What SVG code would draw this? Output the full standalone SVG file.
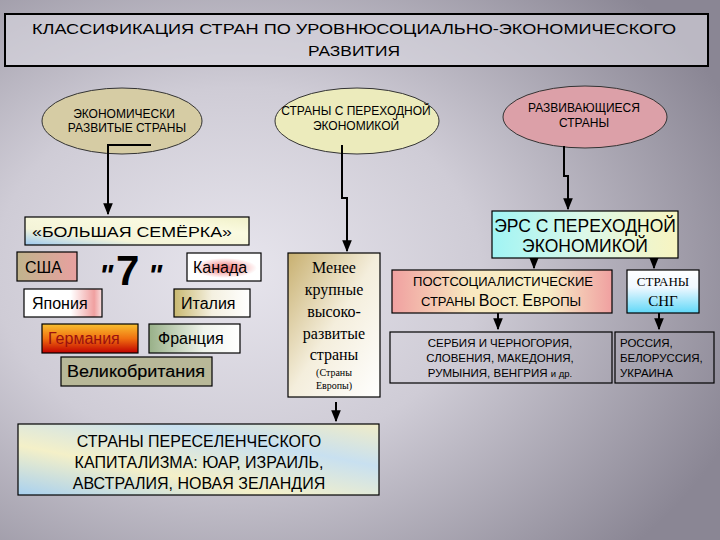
<svg xmlns="http://www.w3.org/2000/svg" width="720" height="540" viewBox="0 0 720 540">
<defs>
<radialGradient id="bg" cx="0.33" cy="0.5" r="0.75">
<stop offset="0" stop-color="#e7e5ed"/>
<stop offset="0.45" stop-color="#cfccd6"/>
<stop offset="1" stop-color="#8a8694"/>
</radialGradient>
<linearGradient id="gSem" x1="0" y1="1" x2="1" y2="0">
<stop offset="0" stop-color="#9cc8f0"/>
<stop offset="0.3" stop-color="#f4f4d8"/>
<stop offset="0.7" stop-color="#fafae0"/>
<stop offset="1" stop-color="#f0f0c8"/>
</linearGradient>
<linearGradient id="gUSA" x1="0" y1="0" x2="1" y2="0">
<stop offset="0" stop-color="#c0b48c"/>
<stop offset="1" stop-color="#e8a0a0"/>
</linearGradient>
<radialGradient id="gCan" cx="0.5" cy="0.5" r="0.5">
<stop offset="0" stop-color="#f07070"/>
<stop offset="1" stop-color="#ffffff"/>
</radialGradient>
<linearGradient id="gJap" x1="0" y1="0" x2="1" y2="0">
<stop offset="0" stop-color="#ffffff"/>
<stop offset="0.6" stop-color="#ffffff"/>
<stop offset="0.9" stop-color="#f0a0a0"/>
<stop offset="1" stop-color="#f8e0e0"/>
</linearGradient>
<linearGradient id="gIta" x1="0" y1="0" x2="1" y2="0">
<stop offset="0" stop-color="#c8b870"/>
<stop offset="0.5" stop-color="#f4f0e0"/>
<stop offset="1" stop-color="#ffffff"/>
</linearGradient>
<linearGradient id="gGer" x1="0" y1="0" x2="0" y2="1">
<stop offset="0" stop-color="#f8c030"/>
<stop offset="0.5" stop-color="#f07010"/>
<stop offset="1" stop-color="#c00000"/>
</linearGradient>
<linearGradient id="gFra" x1="0" y1="0" x2="1" y2="0">
<stop offset="0" stop-color="#98b088"/>
<stop offset="0.6" stop-color="#f0f4ec"/>
<stop offset="1" stop-color="#ffffff"/>
</linearGradient>
<linearGradient id="gMen" x1="0" y1="0" x2="1" y2="1">
<stop offset="0" stop-color="#c8b070"/>
<stop offset="0.5" stop-color="#f4eedc"/>
<stop offset="1" stop-color="#ffffff"/>
</linearGradient>
<linearGradient id="gErs" x1="0" y1="0" x2="1" y2="0">
<stop offset="0" stop-color="#a0f4f4"/>
<stop offset="0.5" stop-color="#dcf8e8"/>
<stop offset="1" stop-color="#f8f4c0"/>
</linearGradient>
<linearGradient id="gPost" x1="0" y1="0" x2="1" y2="0">
<stop offset="0" stop-color="#f0a0a0"/>
<stop offset="0.35" stop-color="#f8e8c0"/>
<stop offset="0.7" stop-color="#f8f0c8"/>
<stop offset="1" stop-color="#f0a0a0"/>
</linearGradient>
<linearGradient id="gSng" x1="0" y1="0" x2="0" y2="1">
<stop offset="0" stop-color="#ffffff"/>
<stop offset="0.4" stop-color="#f0f8ff"/>
<stop offset="1" stop-color="#60d8f8"/>
</linearGradient>
<linearGradient id="gPer" x1="0" y1="1" x2="1" y2="0">
<stop offset="0" stop-color="#a8d0f0"/>
<stop offset="0.35" stop-color="#f4f0c8"/>
<stop offset="0.7" stop-color="#c8e0f0"/>
<stop offset="1" stop-color="#f0ecc8"/>
</linearGradient>
<marker id="arr" viewBox="0 0 10 10" refX="9" refY="5" markerWidth="6" markerHeight="6" orient="auto-start-reverse">
<path d="M0,1 L10,5 L0,9 z" fill="#000"/>
</marker>
</defs>
<style>
.t{font-family:"Liberation Sans",Arial,sans-serif;fill:#000}
.s{font-family:"Liberation Serif","Times New Roman",serif;fill:#000}
.c{text-anchor:middle}
.box{stroke:#000;stroke-width:1.2}
.ell{stroke:#333;stroke-width:1}
.con{fill:none;stroke:#000;stroke-width:2}
</style>
<rect width="720" height="540" fill="url(#bg)"/>

<g id="title">
<rect x="5" y="14" width="703" height="52" fill="#dcdae2" fill-opacity="0.6" stroke="#000" stroke-width="2"/>
<text class="t" x="32" y="34" font-size="15" textLength="644" lengthAdjust="spacingAndGlyphs">КЛАССИФИКАЦИЯ СТРАН ПО УРОВНЮСОЦИАЛЬНО-ЭКОНОМИЧЕСКОГО</text>
<text class="t" x="308" y="56" font-size="15" textLength="92" lengthAdjust="spacingAndGlyphs">РАЗВИТИЯ</text>
</g>

<g id="developed">
<ellipse class="ell" cx="122" cy="121" rx="80" ry="33" fill="#d6cca4"/>
<text class="t c" x="124" y="118" font-size="12">ЭКОНОМИЧЕСКИ</text>
<text class="t c" x="127" y="132" font-size="12">РАЗВИТЫЕ СТРАНЫ</text>
</g>

<g id="transition">
<ellipse class="ell" cx="357" cy="121" rx="82" ry="33" fill="#ecebbc"/>
<text class="t c" x="356" y="115" font-size="12">СТРАНЫ С ПЕРЕХОДНОЙ</text>
<text class="t c" x="356" y="130" font-size="12">ЭКОНОМИКОЙ</text>
</g>

<g id="developing">
<ellipse class="ell" cx="585" cy="117" rx="82" ry="31" fill="#dca0a8"/>
<text class="t c" x="584" y="112" font-size="12">РАЗВИВАЮЩИЕСЯ</text>
<text class="t c" x="584" y="127" font-size="12">СТРАНЫ</text>
</g>

<g id="connectors">
<path class="con" d="M151,145 H108 V214" marker-end="url(#arr)"/>
<path class="con" d="M342,145 V198 H347 V251" marker-end="url(#arr)"/>
<path class="con" d="M564,146 V176 H568 V209" marker-end="url(#arr)"/>
<path class="con" d="M534,258 V268" stroke-width="1.5" marker-end="url(#arr)"/>
<path class="con" d="M654,258 V268" stroke-width="1.5" marker-end="url(#arr)"/>
<path class="con" d="M498,313 V329" stroke-width="1.5" marker-end="url(#arr)"/>
<path class="con" d="M659,313 V329" stroke-width="1.5" marker-end="url(#arr)"/>
<path class="con" d="M336,402 V421" stroke-width="1.5" marker-end="url(#arr)"/>
</g>

<g id="big7">
<rect class="box" x="25" y="217" width="224" height="28" fill="url(#gSem)"/>
<text class="t" x="32" y="237" font-size="15" textLength="200" lengthAdjust="spacingAndGlyphs">«БОЛЬШАЯ СЕМЁРКА»</text>
</g>

<g id="seven">
<text class="t" x="99" y="285" font-size="30" font-weight="bold" font-style="italic">"</text>
<text class="t" x="116" y="285" font-size="42" font-weight="bold">7</text>
<text class="t" x="148" y="285" font-size="30" font-weight="bold" font-style="italic">"</text>
</g>

<g id="usa">
<rect class="box" x="17" y="252" width="60" height="29" fill="url(#gUSA)"/>
<text class="t" x="25" y="273" font-size="16">США</text>
</g>
<g id="canada">
<rect class="box" x="187" y="253" width="74" height="28" fill="#fff"/>
<ellipse cx="225" cy="268" rx="32" ry="10" fill="url(#gCan)"/>
<text class="t" x="193" y="273" font-size="16">Канада</text>
</g>
<g id="japan">
<rect class="box" x="24" y="289" width="78" height="28" fill="url(#gJap)"/>
<text class="t" x="32" y="309" font-size="16">Япония</text>
</g>
<g id="italy">
<rect class="box" x="174" y="289" width="76" height="28" fill="url(#gIta)"/>
<text class="t" x="181" y="309" font-size="16">Италия</text>
</g>
<g id="germany">
<rect class="box" x="42" y="324" width="96" height="29" fill="url(#gGer)"/>
<text class="t" x="48" y="344" font-size="16" style="fill:#9a1010">Германия</text>
</g>
<g id="france">
<rect class="box" x="149" y="324" width="91" height="29" fill="url(#gFra)"/>
<text class="t" x="158" y="344" font-size="16">Франция</text>
</g>
<g id="uk">
<rect class="box" x="61" y="357" width="151" height="29" fill="#b8b898"/>
<text class="t" x="67" y="377" font-size="16" textLength="138" lengthAdjust="spacingAndGlyphs" stroke="#000" stroke-width="0.15">Великобритания</text>
</g>

<g id="smaller">
<rect class="box" x="288" y="253" width="92" height="144" fill="url(#gMen)"/>
<text class="s c" x="334" y="273" font-size="16">Менее</text>
<text class="s c" x="334" y="295" font-size="16">крупные</text>
<text class="s c" x="334" y="317" font-size="16">высоко-</text>
<text class="s c" x="334" y="339" font-size="16">развитые</text>
<text class="s c" x="334" y="360" font-size="16">страны</text>
<text class="s c" x="334" y="376" font-size="10">(Страны</text>
<text class="s c" x="334" y="389" font-size="10">Европы)</text>
</g>

<g id="settler">
<rect class="box" x="18" y="424" width="361" height="71" fill="url(#gPer)"/>
<text class="t c" x="199" y="447" font-size="16">СТРАНЫ ПЕРЕСЕЛЕНЧЕСКОГО</text>
<text class="t c" x="199" y="468" font-size="16">КАПИТАЛИЗМА: ЮАР, ИЗРАИЛЬ,</text>
<text class="t c" x="199" y="489" font-size="16">АВСТРАЛИЯ, НОВАЯ ЗЕЛАНДИЯ</text>
</g>

<g id="ers">
<rect class="box" x="492" y="211" width="186" height="47" fill="url(#gErs)"/>
<text class="t c" x="585" y="232" font-size="17.5">ЭРС С ПЕРЕХОДНОЙ</text>
<text class="t c" x="585" y="252" font-size="17.5">ЭКОНОМИКОЙ</text>
</g>

<g id="postsoc">
<rect class="box" x="392" y="270" width="220" height="43" fill="url(#gPost)"/>
<text class="t c" x="503" y="286" font-size="13">ПОСТСОЦИАЛИСТИЧЕСКИЕ</text>
<text class="t c" x="501" y="306" font-size="13">СТРАНЫ <tspan font-size="16">В</tspan>ОСТ. <tspan font-size="16">Е</tspan>ВРОПЫ</text>
</g>

<g id="sng">
<rect class="box" x="627" y="270" width="72" height="43" fill="url(#gSng)"/>
<text class="s c" x="663" y="286" font-size="13">СТРАНЫ</text>
<text class="s c" x="663" y="306" font-size="15">СНГ</text>
</g>

<g id="eastEurope">
<rect class="box" x="390" y="332" width="222" height="51" fill="none" stroke="#222"/>
<text class="t c" x="500" y="347" font-size="11.5">СЕРБИЯ И ЧЕРНОГОРИЯ,</text>
<text class="t c" x="500" y="362" font-size="11.5">СЛОВЕНИЯ, МАКЕДОНИЯ,</text>
<text class="t c" x="500" y="377" font-size="11.5">РУМЫНИЯ, ВЕНГРИЯ <tspan font-size="9.5">и др.</tspan></text>
</g>

<g id="cis">
<rect class="box" x="615" y="332" width="99" height="51" fill="none" stroke="#222"/>
<text class="t" x="620" y="347" font-size="11.5">РОССИЯ,</text>
<text class="t" x="620" y="362" font-size="11.5">БЕЛОРУССИЯ,</text>
<text class="t" x="620" y="377" font-size="11.5">УКРАИНА</text>
</g>
</svg>
